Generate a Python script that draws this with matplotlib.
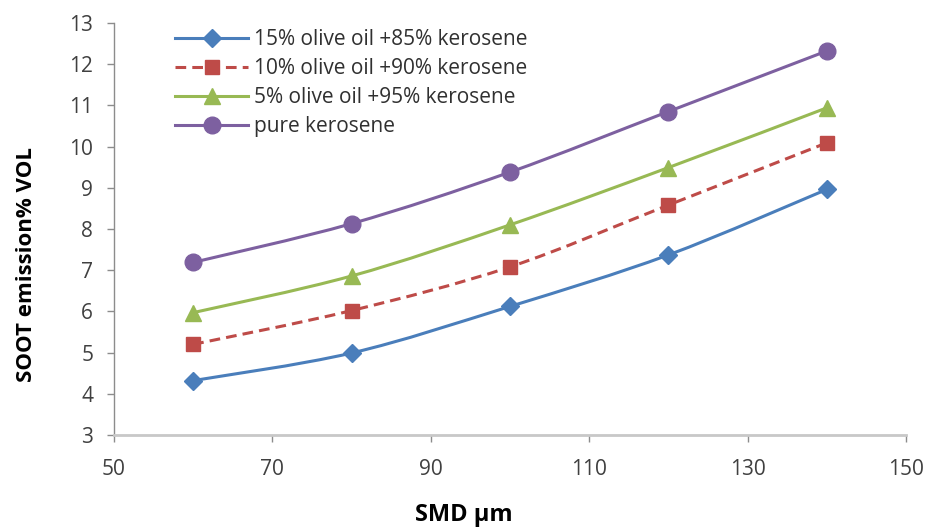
import numpy as np
import matplotlib.pyplot as plt
from matplotlib.path import Path
from matplotlib.patches import PathPatch
from matplotlib.lines import Line2D

# 数据
smd = [60, 80, 100, 120, 140]
soot_15 = [4.32, 4.99, 6.12, 7.37, 8.96]
soot_10 = [5.2, 6.02, 7.08, 8.58, 10.09]
soot_5 = [5.97, 6.86, 8.1, 9.49, 10.94]
soot_pure = [7.19, 8.13, 9.38, 10.85, 12.32]

labels = ['15% olive oil +85% kerosene', '10% olive oil +90% kerosene',
          '5% olive oil +95% kerosene', 'pure kerosene']
colors = ['#4A7EBB', '#BE4B48', '#98B954', '#7D60A0']
markers = ['D', 's', '^', 'o']
msizes = [9, 10, 11, 12]
styles = ['-', (0, (3.5, 2)), '-', '-']

plt.rcParams['font.family'] = ['Open Sans', 'DejaVu Sans']


def smooth_path(x, y):
    """Excel 风格的平滑曲线 (Catmull-Rom -> Bezier)"""
    x = np.asarray(x, float)
    y = np.asarray(y, float)
    verts = [(x[0], y[0])]
    codes = [Path.MOVETO]
    n = len(x)
    for i in range(n - 1):
        x0, y0 = (x[i - 1], y[i - 1]) if i > 0 else (x[i], y[i])
        x3, y3 = (x[i + 2], y[i + 2]) if i + 2 < n else (x[i + 1], y[i + 1])
        c1 = (x[i] + (x[i + 1] - x0) / 6, y[i] + (y[i + 1] - y0) / 6)
        c2 = (x[i + 1] - (x3 - x[i]) / 6, y[i + 1] - (y3 - y[i]) / 6)
        verts += [c1, c2, (x[i + 1], y[i + 1])]
        codes += [Path.CURVE4] * 3
    return Path(verts, codes)


fig = plt.figure(figsize=(9.32, 5.31), dpi=100)
ax = fig.add_axes([0.1223, 0.1808, 0.8497, 0.7759])

series = [soot_15, soot_10, soot_5, soot_pure]
handles = []
for vals, lab, c, m, ms, ls in zip(series, labels, colors, markers, msizes, styles):
    patch = PathPatch(smooth_path(smd, vals), facecolor='none', edgecolor=c,
                      lw=2.2, linestyle=ls, zorder=2)
    ax.add_patch(patch)
    ax.plot(smd, vals, linestyle='none', marker=m, markersize=ms, color=c, zorder=3)
    handles.append(Line2D([], [], color=c, lw=2.2, linestyle=ls, marker=m, markersize=ms))

ax.set_xlim(50, 150)
ax.set_ylim(3, 13)
ax.set_xticks(np.arange(50, 151, 20))
ax.set_yticks(np.arange(3, 14, 1))

for s in ['top', 'right']:
    ax.spines[s].set_visible(False)
ax.spines['left'].set_color('#8C8C8C')
ax.spines['left'].set_linewidth(1.0)
ax.spines['bottom'].set_color('#C8C8C8')
ax.spines['bottom'].set_linewidth(2.0)
ax.tick_params(axis='both', direction='out', length=5, width=1, color='#8C8C8C',
               labelsize=15, labelcolor='#404040')
ax.tick_params(axis='y', pad=10)
ax.tick_params(axis='x', pad=12)

ax.set_xlabel('SMD µm', fontsize=17, fontweight='bold')
ax.xaxis.set_label_coords(0.442, -0.165)
ax.set_ylabel('SOOT emission% VOL', fontsize=16, fontweight='bold')
ax.yaxis.set_label_coords(-0.097, 0.415)

ax.legend(handles=handles, labels=labels, loc='upper left', bbox_to_anchor=(0.067, 1.005),
          borderaxespad=0, frameon=False, fontsize=15, handlelength=3.5,
          labelspacing=0.38, handletextpad=0.25, labelcolor='#303030')

fig.savefig('out.png', dpi=100)
